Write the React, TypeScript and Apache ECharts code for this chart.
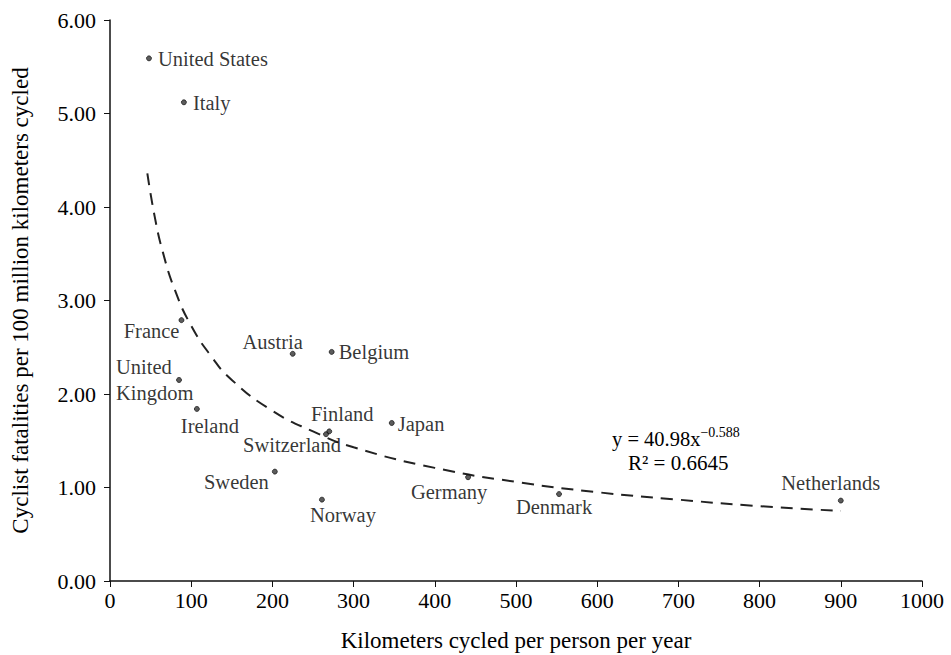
import React, { useEffect, useRef } from "react";
import * as echarts from "echarts";

const countries = [
  "United States", "Italy", "France", "United\nKingdom", "Ireland", "Austria", "Belgium",
  "Finland", "Switzerland", "Japan", "Sweden", "Norway", "Germany", "Denmark", "Netherlands",
];
const kmPerPerson = [48, 91, 88, 85, 107, 225, 273, 270, 266, 347, 203, 261, 441, 553, 900];
const fatalities = [5.59, 5.12, 2.79, 2.15, 1.84, 2.43, 2.45, 1.60, 1.57, 1.69, 1.17, 0.87, 1.11, 0.93, 0.86];

const trendX = [46, 55, 65, 80, 100, 125, 150, 200, 250, 300, 400, 500, 600, 700, 800, 900];
const trendY = [4.36, 3.90, 3.52, 3.11, 2.73, 2.40, 2.15, 1.82, 1.60, 1.43, 1.21, 1.06, 0.95, 0.87, 0.80, 0.75];

const xTicks = [0, 100, 200, 300, 400, 500, 600, 700, 800, 900, 1000];
const yTicks = [0, 1, 2, 3, 4, 5, 6];

// label placement: [align, dx, dy]
const labelPlace: [string, number, number][] = [
  ["left", 9, 1],
  ["left", 9, 1],
  ["right", -2, 11],
  ["left", -63, 0],
  ["center", 13, 17],
  ["center", -20, -12],
  ["left", 7, 0],
  ["center", 13, -17],
  ["center", -34, 11],
  ["left", 6, 1],
  ["right", -6, 10],
  ["center", 21, 15],
  ["center", -19, 15],
  ["center", -5, 13],
  ["center", -10, -18],
];

const FONT = "Liberation Serif";

export default function App() {
  const ref = useRef<HTMLDivElement>(null);
  useEffect(() => {
    if (!ref.current) return;
    const chart = echarts.init(ref.current, null, { renderer: "svg" });
    const pts = countries.map((name, i) => ({
      name,
      value: [kmPerPerson[i], fatalities[i]],
      label: {
        show: true,
        formatter: name,
        position: "inside",
        align: labelPlace[i][0],
        verticalAlign: "middle",
        offset: [labelPlace[i][1], labelPlace[i][2]],
        color: "#000",
        fontFamily: FONT,
        fontSize: 20.5,
        lineHeight: 26,
      },
    }));
    chart.setOption({
      animation: false,
      backgroundColor: "#fff",
      grid: { left: 110, right: 29, top: 20, bottom: 74, containLabel: false, outerBoundsMode: "none" },
      xAxis: {
        type: "value",
        min: xTicks[0],
        max: xTicks[xTicks.length - 1],
        interval: 100,
        name: "Kilometers cycled per person per year",
        nameLocation: "middle",
        nameGap: 48,
        nameTextStyle: { fontFamily: FONT, fontSize: 23, color: "#000" },
        axisLine: { show: true, lineStyle: { color: "#111", width: 1.5 } },
        axisTick: { show: true, length: 6, lineStyle: { color: "#111" } },
        axisLabel: {
          fontFamily: FONT, fontSize: 22, color: "#000", margin: 8,
          formatter: (v: number) => String(v),
        },
        splitLine: { show: false },
      },
      yAxis: {
        type: "value",
        min: yTicks[0],
        max: yTicks[yTicks.length - 1],
        interval: 1,
        name: "Cyclist fatalities per 100 million kilometers cycled",
        nameLocation: "middle",
        nameGap: 78,
        nameTextStyle: { fontFamily: FONT, fontSize: 23, color: "#000" },
        axisLine: { show: true, lineStyle: { color: "#111", width: 1.5 } },
        axisTick: { show: true, length: 6, lineStyle: { color: "#111" } },
        axisLabel: {
          fontFamily: FONT, fontSize: 22, color: "#000", margin: 14,
          formatter: (v: number) => v.toFixed(2),
        },
        splitLine: { show: false },
      },
      series: [
        {
          type: "line",
          data: trendX.map((x, i) => [x, trendY[i]]),
          smooth: true,
          showSymbol: false,
          symbol: "none",
          lineStyle: { color: "#222", width: 2, type: [12, 8] },
          z: 1,
        },
        {
          type: "scatter",
          data: pts,
          symbol: "circle",
          symbolSize: 5,
          itemStyle: { color: "#333", borderColor: "#000", borderWidth: 0.8 },
          z: 2,
        },
      ],
      graphic: [
        {
          type: "text",
          left: 612,
          top: 425,
          style: {
            text: "{b|y = 40.98x}{s|−0.588}",
            rich: {
              b: { fontFamily: FONT, fontSize: 20.5, fill: "#000", verticalAlign: "bottom", lineHeight: 24 },
              s: { fontFamily: FONT, fontSize: 14, fill: "#000", verticalAlign: "top", lineHeight: 24, padding: [0, 0, 10, 0] },
            },
          },
        },
        {
          type: "text",
          left: 628,
          top: 452,
          style: {
            text: "R² = 0.6645",
            fontFamily: FONT,
            fontSize: 21,
            fill: "#000",
          },
        },
      ],
    });
    return () => chart.dispose();
  }, []);
  return <div ref={ref} style={{ position: "fixed", left: 0, top: 0, width: 951, height: 655 }} />;
}
